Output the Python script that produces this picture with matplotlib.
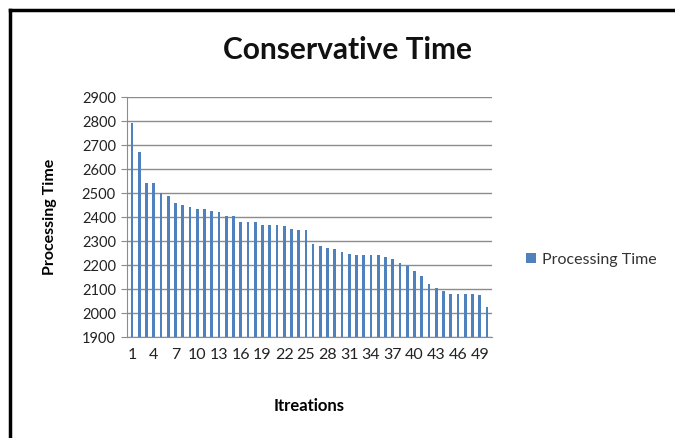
import matplotlib.pyplot as plt
from matplotlib.lines import Line2D
from matplotlib.patches import Patch

# ─────────────────────────────────────────────
# Data
# ─────────────────────────────────────────────

iterations = list(range(1, 51))
processing_time = [
    2792, 2672, 2543, 2543, 2500, 2488, 2458, 2448, 2440, 2433,
    2433, 2425, 2419, 2406, 2403, 2379, 2379, 2379, 2368, 2368,
    2368, 2361, 2351, 2344, 2344, 2288, 2280, 2271, 2265, 2256,
    2247, 2240, 2240, 2240, 2240, 2234, 2225, 2209, 2195, 2177,
    2153, 2122, 2105, 2091, 2081, 2081, 2081, 2081, 2073, 2025,
]
y_ticks = list(range(1900, 3000, 100))

TITLE = "Conservative Time"
X_LABEL = "Itreations"
Y_LABEL = "Processing Time"
SERIES = "Processing Time"

BAR_COLOR = "#4F81BD"
GRID_COLOR = "#8C8C8C"

plt.rcParams["font.family"] = ["Lato", "DejaVu Sans"]

# ─────────────────────────────────────────────
# Figure
# ─────────────────────────────────────────────

W, H = 675, 438
fig = plt.figure(figsize=(W / 100, H / 100), dpi=100)

# plot area in pixel coordinates
left, right, top, bottom = 127, 492, 97, 337
ax = fig.add_axes([left / W, 1 - bottom / H, (right - left) / W, (bottom - top) / H])

x = list(range(len(iterations)))
ax.bar(x, processing_time, width=0.38, color=BAR_COLOR, zorder=3)

ax.set_ylim(1900, 2900)
ax.set_xlim(-0.7, len(iterations) - 0.3)
ax.set_yticks(y_ticks)
ax.set_yticklabels([str(v) for v in y_ticks], fontsize=10.5, color="#222222")
ax.set_xticks(x[::3])
ax.set_xticklabels([str(i) for i in iterations[::3]], fontsize=11.5, color="#222222")

ax.yaxis.grid(True, color=GRID_COLOR, linewidth=1.0, zorder=0)
ax.tick_params(axis="y", length=4, color=GRID_COLOR, pad=4)
ax.tick_params(axis="x", length=0, pad=8)

for side in ["top", "right"]:
    ax.spines[side].set_visible(False)
ax.spines["left"].set_color(GRID_COLOR)
ax.spines["bottom"].set_color(GRID_COLOR)

ax.set_ylabel(Y_LABEL, fontsize=11.5, fontweight="bold", labelpad=18)
ax.set_xlabel(X_LABEL, fontsize=12, fontweight="bold", labelpad=26)

fig.text(347 / W, 1 - 50 / H, TITLE, fontsize=21.5, fontweight="bold",
         ha="center", va="center", color="#111111")

handles = [Patch(facecolor=BAR_COLOR, edgecolor="none")]
fig.legend(handles, [SERIES], loc="center left", bbox_to_anchor=(512 / W, 1 - 260 / H),
           frameon=False, fontsize=11.5, handlelength=0.6, handleheight=0.6,
           handletextpad=0.4, labelcolor="#333333")

# chart frame (only top and left edges are visible in the crop)
fig.add_artist(Line2D([10 / W, 10 / W], [0, 1 - 10 / H], color="black",
                      linewidth=2.5, transform=fig.transFigure))
fig.add_artist(Line2D([10 / W, 1], [1 - 10 / H, 1 - 10 / H], color="black",
                      linewidth=2.5, transform=fig.transFigure))

fig.savefig("out.png", dpi=100)
